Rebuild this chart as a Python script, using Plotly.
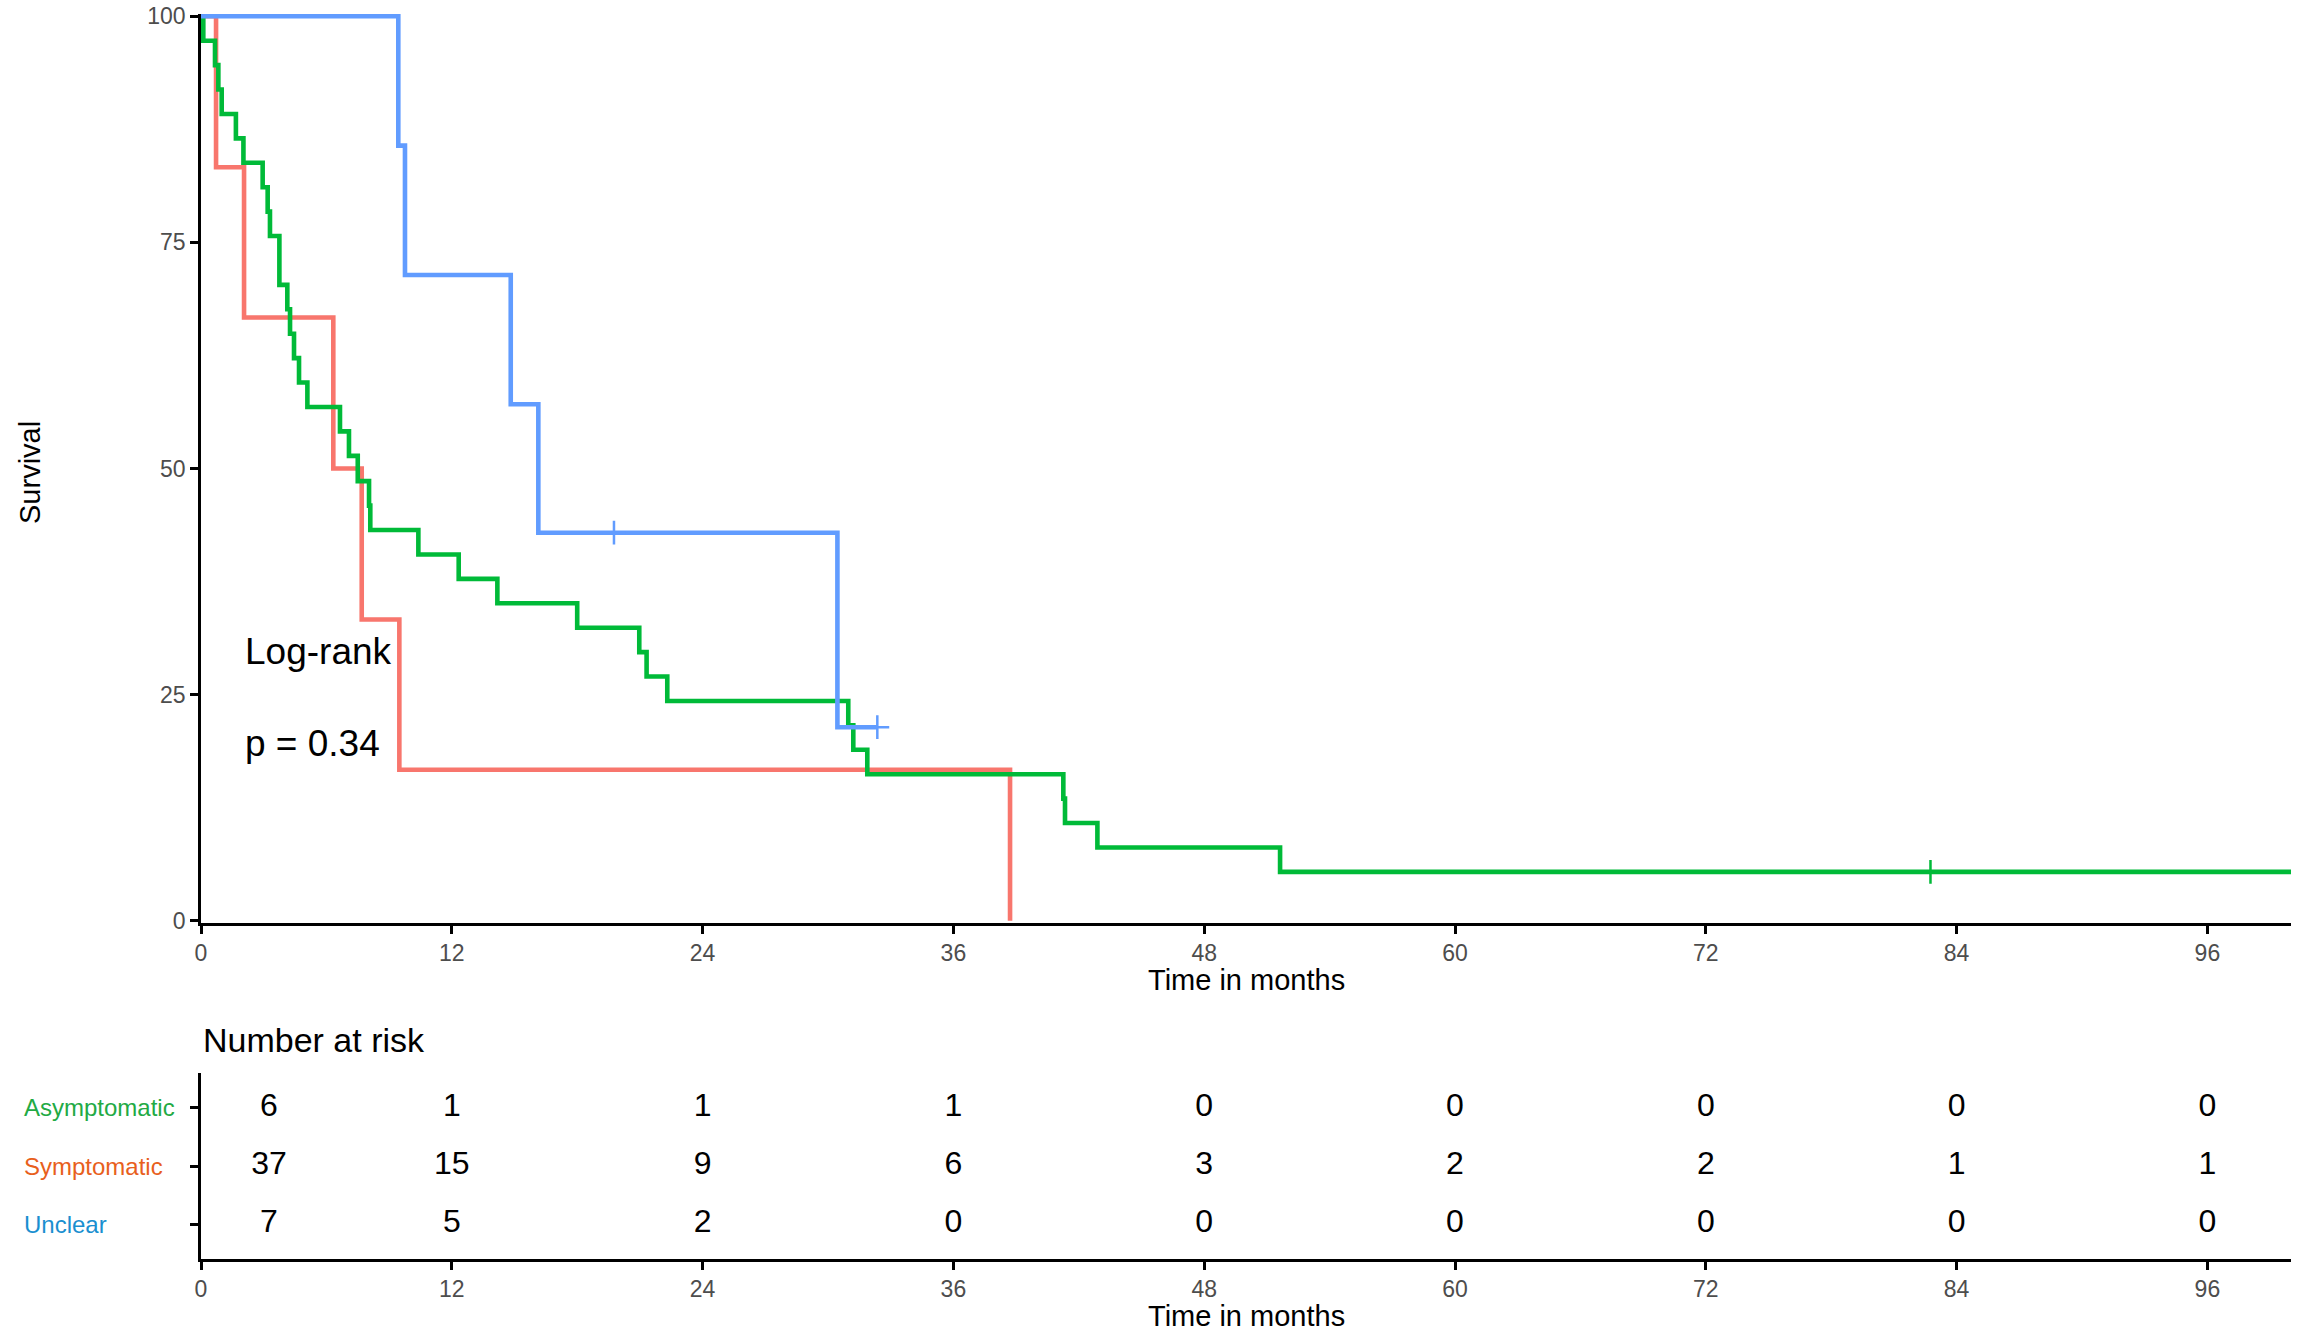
import plotly.graph_objects as go

# ---------------- data ----------------
# Kaplan-Meier step points: (time in months, survival %)
asym_time = [0, 0.72, 2.06, 6.33, 7.69, 9.49, 38.71]
asym_surv = [100, 83.3, 66.7, 50.0, 33.3, 16.7, 0.0]
asym_cens_time = []
asym_cens_surv = []

symp_time = [0, 0.11, 0.67, 0.83, 0.99, 1.67, 2.03, 2.95, 3.19, 3.30, 3.75,
             4.13, 4.26, 4.45, 4.69, 5.09, 6.65, 7.08, 7.50, 8.04, 8.10,
             10.40, 12.33, 14.18, 18.00, 20.97, 21.32, 22.31, 30.97, 31.21,
             31.88, 41.26, 41.34, 42.89, 51.63, 100.0]
symp_surv = [100, 97.3, 94.6, 91.9, 89.2, 86.5, 83.8, 81.1, 78.4, 75.7, 70.3,
             67.6, 64.9, 62.2, 59.5, 56.8, 54.1, 51.4, 48.6, 45.9, 43.2,
             40.5, 37.8, 35.1, 32.4, 29.7, 27.0, 24.3, 21.6, 18.9,
             16.2, 13.5, 10.8, 8.1, 5.4, 5.4]
symp_cens_time = [82.75]
symp_cens_surv = [5.4]

uncl_time = [0, 9.44, 9.76, 14.82, 16.14, 30.45, 32.36]
uncl_surv = [100, 85.7, 71.4, 57.1, 42.9, 21.4, 21.4]
uncl_cens_time = [19.76, 32.36]
uncl_cens_surv = [42.9, 21.4]

# Number at risk table
risk_times = [3.25, 12, 24, 36, 48, 60, 72, 84, 96]
risk_groups = ["Asymptomatic", "Symptomatic", "Unclear"]
risk_asym = [6, 1, 1, 1, 0, 0, 0, 0, 0]
risk_symp = [37, 15, 9, 6, 3, 2, 2, 1, 1]
risk_uncl = [7, 5, 2, 0, 0, 0, 0, 0, 0]

x_ticks = [0, 12, 24, 36, 48, 60, 72, 84, 96]
y_ticks = [0, 25, 50, 75, 100]
pvalue_text = ["Log-rank", "p = 0.34"]

# ---------------- styling ----------------
FONT = "Liberation Sans, Arial, sans-serif"
RED, GREEN, BLUE = "#F8766D", "#00BA38", "#619CFF"
LABEL_COLORS = ["#22AA44", "#E8601C", "#1A8FD0"]
W, H = 2308, 1332
ML, MR, MT, MB = 201, 17, 14, 73
PW, PH = W - ML - MR, H - MT - MB


def px_x(p):
    return (p - ML) / PW


def px_y(p):
    return (H - MB - p) / PH


fig = go.Figure()

curves = [
    (asym_time, asym_surv, asym_cens_time, asym_cens_surv, RED, "Asymptomatic"),
    (symp_time, symp_surv, symp_cens_time, symp_cens_surv, GREEN, "Symptomatic"),
    (uncl_time, uncl_surv, uncl_cens_time, uncl_cens_surv, BLUE, "Unclear"),
]
for t, s, ct, cs, col, name in curves:
    fig.add_trace(go.Scatter(
        x=t, y=s, mode="lines", line=dict(color=col, width=4.6, shape="hv"),
        name=name, showlegend=False, xaxis="x", yaxis="y"))
for t, s, ct, cs, col, name in curves:
    if ct:
        fig.add_trace(go.Scatter(
            x=ct, y=cs, mode="markers",
            marker=dict(symbol="cross-thin", size=17,
                        line=dict(color=col, width=2.5)),
            showlegend=False, xaxis="x", yaxis="y", cliponaxis=False))

# risk table numbers
rows = [3, 2, 1]
for vals, r in zip([risk_asym, risk_symp, risk_uncl], rows):
    fig.add_trace(go.Scatter(
        x=risk_times, y=[r] * len(risk_times), mode="text",
        text=[str(v) for v in vals],
        textfont=dict(family=FONT, size=32, color="black"),
        showlegend=False, xaxis="x2", yaxis="y2", cliponaxis=False))

axis_common = dict(
    showline=True, linecolor="black", linewidth=2.5, mirror=False,
    ticks="outside", ticklen=8, tickwidth=2.5, tickcolor="black",
    showgrid=False, zeroline=False, automargin=False,
    ticklabeloverflow="allow",
    tickfont=dict(family=FONT, size=23, color="#4D4D4D"),
)

fig.update_layout(
    width=W, height=H,
    margin=dict(l=ML, r=MR, t=MT, b=MB),
    paper_bgcolor="white", plot_bgcolor="white",
    font=dict(family=FONT, color="black"),
    xaxis=dict(domain=[0, 1], range=[0, 100], tickvals=x_ticks,
               anchor="y", **axis_common),
    yaxis=dict(domain=[px_y(923), 1], range=[-0.25, 100.25], tickvals=y_ticks,
               anchor="x", **axis_common),
    xaxis2=dict(domain=[0, 1], range=[0, 100], tickvals=x_ticks,
                anchor="y2", **axis_common),
    yaxis2=dict(domain=[0, px_y(1073)], range=[0.4, 3.6], tickvals=rows,
                showticklabels=False, anchor="x2", **axis_common),
)

ann = []
ann.append(dict(text="Survival", xref="paper", yref="paper",
                x=px_x(30), y=px_y(473), textangle=-90, showarrow=False,
                xanchor="center", yanchor="middle",
                font=dict(family=FONT, size=29, color="black")))
for yy in (980, 1316):
    ann.append(dict(text="Time in months", xref="paper", yref="paper",
                    x=0.5, y=px_y(yy), showarrow=False,
                    xanchor="center", yanchor="middle",
                    font=dict(family=FONT, size=29, color="black")))
ann.append(dict(text="Number at risk", xref="paper", yref="paper",
                x=px_x(201), y=px_y(1040), showarrow=False,
                xanchor="left", yanchor="middle",
                font=dict(family=FONT, size=34, color="black")))
for g, r, c in zip(risk_groups, rows, LABEL_COLORS):
    ann.append(dict(text=g, xref="paper", yref="y2", x=px_x(22), y=r,
                    showarrow=False, xanchor="left", yanchor="middle",
                    font=dict(family=FONT, size=24, color=c)))
for txt, yv in zip(pvalue_text, [29.8, 19.6]):
    ann.append(dict(text=txt, xref="x", yref="y", x=2.0, y=yv,
                    showarrow=False, xanchor="left", yanchor="middle",
                    font=dict(family=FONT, size=37, color="black")))
fig.update_layout(annotations=ann)

fig.write_html("out.html", config={"displayModeBar": False},
               post_script="document.body.style.margin='0px';"
                           "document.body.style.overflow='hidden';")
